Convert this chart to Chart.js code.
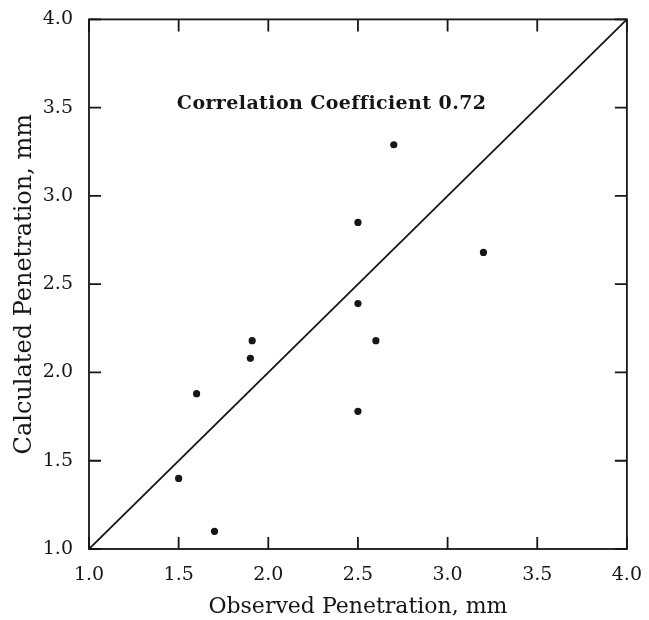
<!DOCTYPE html>
<html>
<head>
<meta charset="utf-8">
<script src="https://cdn.jsdelivr.net/npm/chart.js@4/dist/chart.umd.min.js"></script>
<style>
    html, body { margin: 0; padding: 0; background: #ffffff; }
    #wrap { width: 649px; height: 620px; }
</style>
</head>
<body>
<div id="wrap"><canvas id="penetrationChart"></canvas></div>
<script>
// observed vs calculated penetration, mm
const observed = [2.70, 2.50, 3.20, 2.50, 2.60, 1.91, 1.90, 1.60, 1.50, 1.70, 2.50];
const calculated = [3.29, 2.85, 2.68, 2.39, 2.18, 2.18, 2.08, 1.88, 1.40, 1.10, 1.78];

// 1:1 reference line
const lineX = [1.0, 4.0];
const lineY = [1.0, 4.0];

const tickValues = [1.0, 1.5, 2.0, 2.5, 3.0, 3.5, 4.0];
const note = "Correlation Coefficient 0.72";

const ink = "#161616";
const serif = "'DejaVu Serif', 'Liberation Serif', serif";

// box round the plot, inward ticks on all four sides, and the note
const framePlugin = {
    id: "frame",
    afterDraw(chart) {
        const { ctx, chartArea: a, scales } = chart;
        const len = 12;
        ctx.save();
        ctx.strokeStyle = ink;
        ctx.lineWidth = 1.8;
        ctx.strokeRect(a.left, a.top, a.right - a.left, a.bottom - a.top);

        ctx.beginPath();
        tickValues.forEach(v => {
            const px = scales.x.getPixelForValue(v);
            const py = scales.y.getPixelForValue(v);
            ctx.moveTo(px, a.bottom); ctx.lineTo(px, a.bottom - len);
            ctx.moveTo(px, a.top); ctx.lineTo(px, a.top + len);
            ctx.moveTo(a.left, py); ctx.lineTo(a.left + len, py);
            ctx.moveTo(a.right, py); ctx.lineTo(a.right - len, py);
        });
        ctx.stroke();

        ctx.fillStyle = ink;
        ctx.font = "bold 19px " + serif;
        ctx.letterSpacing = "0.4px";
        ctx.textAlign = "left";
        ctx.textBaseline = "middle";
        ctx.fillText(note, scales.x.getPixelForValue(1.49), scales.y.getPixelForValue(3.52));
        ctx.restore();
    }
};

const points = observed.map((x, i) => ({ x: x, y: calculated[i] }));
const diagonal = lineX.map((x, i) => ({ x: x, y: lineY[i] }));

new Chart(document.getElementById("penetrationChart"), {
    type: "scatter",
    data: {
        datasets: [
            {
                label: "Calculated",
                data: points,
                pointRadius: 3.6,
                pointBackgroundColor: ink,
                pointBorderWidth: 0
            },
            {
                label: "1:1",
                data: diagonal,
                showLine: true,
                borderColor: ink,
                borderWidth: 1.8,
                pointRadius: 0
            }
        ]
    },
    options: {
        responsive: true,
        maintainAspectRatio: false,
        animation: false,
        layout: {
            padding: { left: 0, top: 14, right: 21, bottom: 0 }
        },
        plugins: {
            legend: { display: false },
            tooltip: { enabled: false }
        },
        scales: {
            x: {
                type: "linear",
                min: 1,
                max: 4,
                afterFit: s => { s.height = 71; },
                afterBuildTicks: s => { s.ticks = tickValues.map(v => ({ value: v })); },
                grid: { display: false },
                border: { display: false },
                ticks: {
                    color: ink,
                    padding: 7,
                    font: { family: serif, size: 19 },
                    callback: v => v.toFixed(1)
                },
                title: {
                    display: true,
                    text: "Observed Penetration, mm",
                    color: ink,
                    padding: { top: 4, bottom: 0 },
                    font: { family: serif, size: 22 }
                }
            },
            y: {
                type: "linear",
                min: 1,
                max: 4,
                afterFit: s => { s.width = 89; },
                afterBuildTicks: s => { s.ticks = tickValues.map(v => ({ value: v })); },
                grid: { display: false },
                border: { display: false },
                ticks: {
                    color: ink,
                    padding: 8,
                    font: { family: serif, size: 19 },
                    callback: v => v.toFixed(1)
                },
                title: {
                    display: true,
                    text: "Calculated Penetration, mm",
                    color: ink,
                    padding: { top: 10, bottom: 0 },
                    font: { family: serif, size: 24 }
                }
            }
        }
    },
    plugins: [framePlugin]
});
</script>
</body>
</html>
